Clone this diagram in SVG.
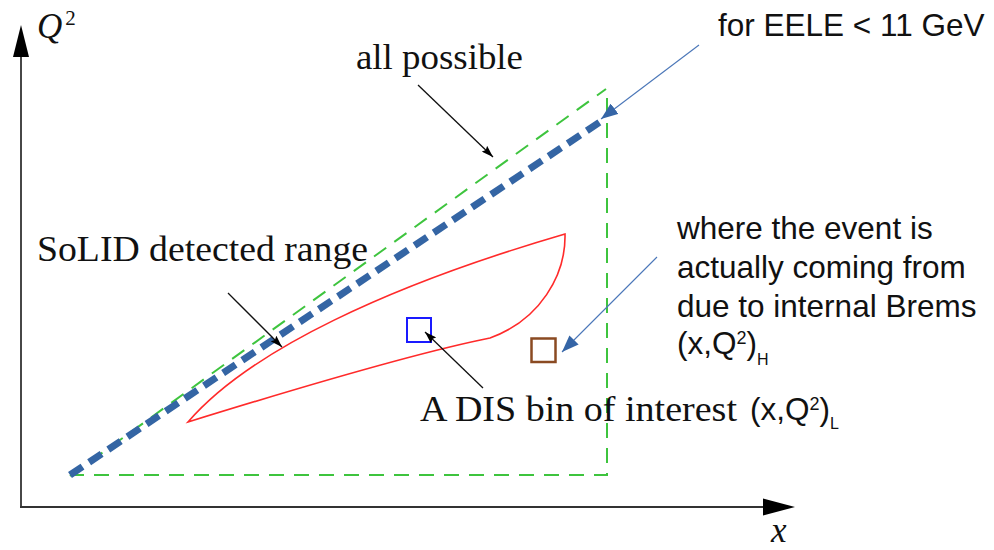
<svg xmlns="http://www.w3.org/2000/svg" width="994" height="550" viewBox="0 0 994 550">
<style>
.tex{font-family:"Liberation Serif","Times New Roman",serif;font-size:35px;fill:#111}
.sans{font-family:"Liberation Sans",Arial,sans-serif;font-size:31.5px;fill:#111}
.axis{stroke:#333;stroke-width:1.8;fill:none}
.green{stroke:#3ec43e;stroke-width:2;fill:none;stroke-dasharray:15 10}
.bluethick{stroke:#3465a4;stroke-width:7;fill:none;stroke-dasharray:15 8}
.red{stroke:#ff2a2a;stroke-width:1.6;fill:none}
.blk{stroke:#111;stroke-width:1.3;fill:none;marker-end:url(#ab)}
.blu{stroke:#4a76b8;stroke-width:1.1;fill:none;marker-end:url(#abl)}
</style>
<defs>
<marker id="ab" markerUnits="userSpaceOnUse" viewBox="0 0 12 8" refX="12" refY="4" markerWidth="12" markerHeight="8" orient="auto">
<path d="M0,0 L12,4 L0,8 L2,4 z" fill="#000"/>
</marker>
<marker id="abl" markerUnits="userSpaceOnUse" viewBox="0 0 17 13" refX="17" refY="6.5" markerWidth="17" markerHeight="13" orient="auto">
<path d="M0,0 L17,6.5 L0,13 z" fill="#3565a6"/>
</marker>
</defs>

<g id="axes">
<path class="axis" d="M21,508 L21,55"/>
<path d="M21,25 L13,57 L29,57 z" fill="#000"/>
<path class="axis" d="M20,507 L766,507"/>
<path d="M795,507 L763,498.5 L763,515.5 z" fill="#000"/>
<text x="37" y="38" class="tex" font-size="30"><tspan font-style="italic">Q</tspan><tspan font-size="21" dy="-13" dx="3">2</tspan></text>
<text x="771" y="542" class="tex" font-style="italic" font-size="28">x</text>
</g>

<g id="all-possible-region">
<path class="green" d="M70,476 L606,89 M607,98 L607,475 L70,475"/>
</g>

<g id="eele-limit">
<path class="bluethick" d="M70,475 L603,120"/>
</g>

<g id="solid-range">
<path class="red" d="M188,422 C250,350 390,285 565,234 C566,275 540,320 490,338 C440,348 330,378 188,422 Z"/>
</g>

<g id="dis-bin">
<rect x="407" y="318" width="24" height="24" fill="none" stroke="#1a1aff" stroke-width="2"/>
</g>

<g id="brems-bin">
<rect x="531.5" y="338.5" width="24" height="23.5" fill="none" stroke="#8a4a22" stroke-width="2.5"/>
</g>

<g id="connectors">
<path class="blk" d="M418,85 L493,157"/>
<path class="blk" d="M228,293 L282,347"/>
<path class="blk" d="M483,388 L425,332"/>
<path class="blu" d="M699,45 L601,119"/>
<path class="blu" d="M657,257 L562,352"/>
</g>

<g id="labels">
<text x="356" y="69" class="tex" textLength="167" lengthAdjust="spacingAndGlyphs">all possible</text>
<text x="37" y="261" class="tex" textLength="331" lengthAdjust="spacingAndGlyphs">SoLID detected range</text>
<text x="420" y="421" class="tex" textLength="317" lengthAdjust="spacingAndGlyphs">A DIS bin of interest</text>
<text x="750" y="420" class="sans" font-size="30">(x,Q<tspan font-size="18" dy="-10">2</tspan><tspan dy="10">)</tspan><tspan font-size="16" dy="9">L</tspan></text>
<text x="718" y="36" class="sans">for EELE &lt; 11 GeV</text>
<text x="677" y="239" class="sans">where the event is</text>
<text x="677" y="278" class="sans">actually coming from</text>
<text x="677" y="317" class="sans">due to internal Brems</text>
<text x="677" y="354" class="sans">(x,Q<tspan font-size="18" dy="-10">2</tspan><tspan dy="10">)</tspan><tspan font-size="16" dy="11">H</tspan></text>
</g>
</svg>
